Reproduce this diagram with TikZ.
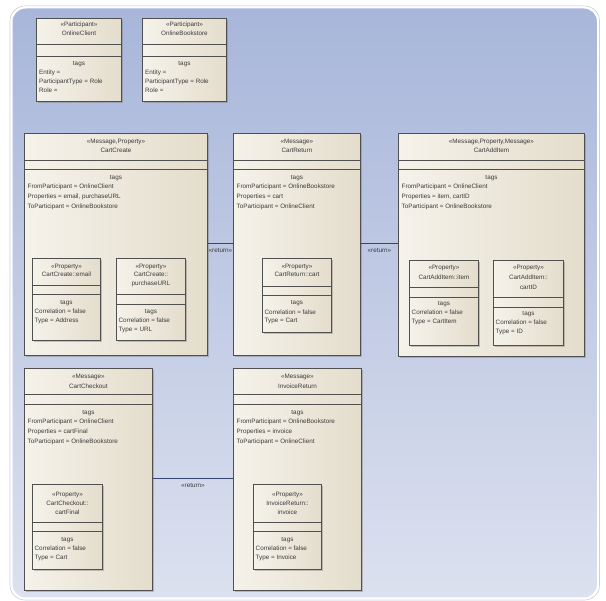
\documentclass[tikz,border=0pt]{standalone}
\usepackage{fontspec}
\setmainfont{Liberation Sans}
\usetikzlibrary{shadows}
\definecolor{panelTop}{HTML}{A8B6DA}
\definecolor{panelBot}{HTML}{DCE1EF}
\definecolor{panelEdge}{HTML}{C3CBDE}
\definecolor{boxL}{HTML}{F5F2EA}
\definecolor{boxR}{HTML}{E4DDCC}
\definecolor{boxLine}{HTML}{505050}
\definecolor{txtCol}{HTML}{3A3A3A}
\definecolor{conCol}{HTML}{34466E}
\tikzset{
 umlbox/.style={draw=boxLine, line width=0.9pt, left color=boxL, right color=boxR, inner sep=0pt,
   drop shadow={shadow xshift=1.6pt, shadow yshift=-1.6pt, opacity=0.35, fill=black!60}},
 sepline/.style={draw=boxLine, line width=0.8pt},
 lbl/.style={font=\fontsize{6.3}{7}\selectfont, text=txtCol, inner sep=0pt, text height=4.5pt, text depth=1.2pt},
 ltag/.style={lbl, anchor=west},
 conn/.style={draw=conCol, line width=0.9pt},
}
\newcommand{\umlframe}[7]{%
 \pgfmathsetmacro{\bw}{#4-#2}\pgfmathsetmacro{\bh}{#5-#3}%
 \node[umlbox, anchor=north west, minimum width=\bw pt, minimum height=\bh pt] (#1) at (#2,#3) {};
 \draw[sepline] (#2,#6) -- (#4,#6);
 \draw[sepline] (#2,#7) -- (#4,#7);
}
\begin{document}
\begin{tikzpicture}[x=1pt,y=-1pt]
\useasboundingbox (0,0) rectangle (606,601);
\fill[white] (0,0) rectangle (606,601);
\draw[panelEdge, line width=0.6pt, rounded corners=15pt] (10,6) rectangle (599.5,600);
\path[draw=white, line width=2pt, top color=panelTop, bottom color=panelBot, rounded corners=14pt] (11.5,7.5) rectangle (598,598.5);

% Participants
\umlframe{oc}{36}{18}{121}{101}{44}{56}
\node[lbl] at (oc.north |- 0,25) {«Participant»};
\node[lbl] at (oc.north |- 0,33.5) {OnlineClient};
\node[lbl] at (oc.north |- 0,64) {tags};
\node[ltag] at (39,72.5) {Entity =};
\node[ltag] at (39,81.5) {ParticipantType = Role};
\node[ltag] at (39,90.5) {Role =};

\umlframe{ob}{142}{18}{226}{101}{44}{56}
\node[lbl] at (ob.north |- 0,25) {«Participant»};
\node[lbl] at (ob.north |- 0,33.5) {OnlineBookstore};
\node[lbl] at (ob.north |- 0,64) {tags};
\node[ltag] at (145,72.5) {Entity =};
\node[ltag] at (145,81.5) {ParticipantType = Role};
\node[ltag] at (145,90.5) {Role =};

% CartCreate
\umlframe{cc}{24}{133}{207}{355}{160.5}{169.5}
\node[lbl] at (cc.north |- 0,142) {«Message,Property»};
\node[lbl] at (cc.north |- 0,150.5) {CartCreate};
\node[lbl] at (cc.north |- 0,177.5) {tags};
\node[ltag] at (27.5,187) {FromParticipant = OnlineClient};
\node[ltag] at (27.5,197) {Properties = email, purchaseURL};
\node[ltag] at (27.5,207) {ToParticipant = OnlineBookstore};

\umlframe{cce}{32}{258}{100}{340}{285}{294}
\node[lbl] at (cce.north |- 0,266.5) {«Property»};
\node[lbl] at (cce.north |- 0,275) {CartCreate::email};
\node[lbl] at (cce.north |- 0,302.5) {tags};
\node[ltag] at (34.5,312) {Correlation = false};
\node[ltag] at (34.5,321) {Type = Address};

\umlframe{ccp}{116}{258}{185}{340}{294}{304}
\node[lbl] at (ccp.north |- 0,266.5) {«Property»};
\node[lbl] at (ccp.north |- 0,275) {CartCreate::};
\node[lbl] at (ccp.north |- 0,284) {purchaseURL};
\node[lbl] at (ccp.north |- 0,312) {tags};
\node[ltag] at (118.5,321) {Correlation = false};
\node[ltag] at (118.5,330) {Type = URL};

% CartReturn
\umlframe{cr}{233}{133}{360}{355}{160.5}{169.5}
\node[lbl] at (cr.north |- 0,142) {«Message»};
\node[lbl] at (cr.north |- 0,150.5) {CartReturn};
\node[lbl] at (cr.north |- 0,177.5) {tags};
\node[ltag] at (236.5,187) {FromParticipant = OnlineBookstore};
\node[ltag] at (236.5,197) {Properties = cart};
\node[ltag] at (236.5,207) {ToParticipant = OnlineClient};

\umlframe{crc}{262}{258}{331}{332}{286}{295}
\node[lbl] at (crc.north |- 0,266.5) {«Property»};
\node[lbl] at (crc.north |- 0,274.5) {CartReturn::cart};
\node[lbl] at (crc.north |- 0,303) {tags};
\node[ltag] at (264.5,312.5) {Correlation = false};
\node[ltag] at (264.5,321) {Type = Cart};

% CartAddItem
\umlframe{ca}{398}{133}{584}{356}{160.5}{169.5}
\node[lbl] at (ca.north |- 0,142) {«Message,Property,Message»};
\node[lbl] at (ca.north |- 0,150.5) {CartAddItem};
\node[lbl] at (ca.north |- 0,177.5) {tags};
\node[ltag] at (401.5,187) {FromParticipant = OnlineClient};
\node[ltag] at (401.5,197) {Properties = item, cartID};
\node[ltag] at (401.5,207) {ToParticipant = OnlineBookstore};

\umlframe{cai}{409}{260}{478}{345}{287.5}{297}
\node[lbl] at (cai.north |- 0,268) {«Property»};
\node[lbl] at (cai.north |- 0,277.5) {CartAddItem::item};
\node[lbl] at (cai.north |- 0,304) {tags};
\node[ltag] at (411.5,313) {Correlation = false};
\node[ltag] at (411.5,322) {Type = CartItem};

\umlframe{cad}{493}{260}{563}{345}{297}{307}
\node[lbl] at (cad.north |- 0,268) {«Property»};
\node[lbl] at (cad.north |- 0,277.5) {CartAddItem::};
\node[lbl] at (cad.north |- 0,287.5) {cartID};
\node[lbl] at (cad.north |- 0,314) {tags};
\node[ltag] at (495.5,322.5) {Correlation = false};
\node[ltag] at (495.5,331.5) {Type = ID};

% CartCheckout
\umlframe{ck}{24}{368}{152}{590}{394}{404}
\node[lbl] at (ck.north |- 0,377) {«Message»};
\node[lbl] at (ck.north |- 0,386.5) {CartCheckout};
\node[lbl] at (ck.north |- 0,413) {tags};
\node[ltag] at (27.5,422) {FromParticipant = OnlineClient};
\node[ltag] at (27.5,432) {Properties = cartFinal};
\node[ltag] at (27.5,442) {ToParticipant = OnlineBookstore};

\umlframe{ckf}{32}{484}{102}{569}{522}{531}
\node[lbl] at (ckf.north |- 0,495) {«Property»};
\node[lbl] at (ckf.north |- 0,503.5) {CartCheckout::};
\node[lbl] at (ckf.north |- 0,513) {cartFinal};
\node[lbl] at (ckf.north |- 0,539.5) {tags};
\node[ltag] at (34.5,549) {Correlation = false};
\node[ltag] at (34.5,558) {Type = Cart};

% InvoiceReturn
\umlframe{ir}{233}{368}{361}{590}{394}{404}
\node[lbl] at (ir.north |- 0,377) {«Message»};
\node[lbl] at (ir.north |- 0,386.5) {InvoiceReturn};
\node[lbl] at (ir.north |- 0,413) {tags};
\node[ltag] at (236.5,422) {FromParticipant = OnlineBookstore};
\node[ltag] at (236.5,432) {Properties = invoice};
\node[ltag] at (236.5,442) {ToParticipant = OnlineClient};

\umlframe{iri}{253}{484}{321}{569}{522}{531}
\node[lbl] at (iri.north |- 0,495) {«Property»};
\node[lbl] at (iri.north |- 0,503.5) {InvoiceReturn::};
\node[lbl] at (iri.north |- 0,513) {invoice};
\node[lbl] at (iri.north |- 0,539.5) {tags};
\node[ltag] at (255.5,549) {Correlation = false};
\node[ltag] at (255.5,558) {Type = Invoice};

% Connectors
\draw[conn] (cc.east |- 0,243) -- node[lbl, midway, yshift=-8pt] {«return»} (cr.west |- 0,243);
\draw[conn] (cr.east |- 0,243) -- node[lbl, midway, yshift=-8pt] {«return»} (ca.west |- 0,243);
\draw[conn] (ck.east |- 0,478) -- node[lbl, midway, yshift=-8pt] {«return»} (ir.west |- 0,478);
\end{tikzpicture}
\end{document}
